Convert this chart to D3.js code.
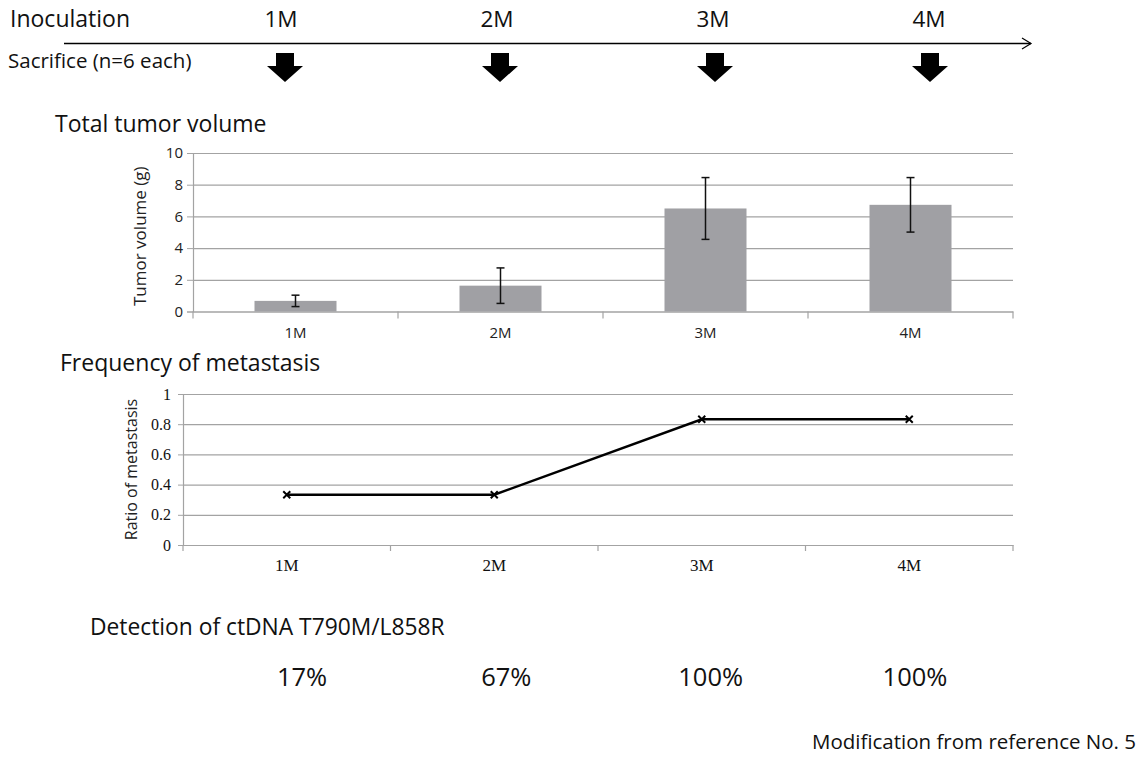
<!DOCTYPE html>
<html>
<head>
<meta charset="utf-8">
<script src="https://cdn.jsdelivr.net/npm/d3@7"></script>
<style>
  html, body { margin: 0; padding: 0; background: #fff; }
  svg { display: block; }
</style>
</head>
<body>
<svg id="chart" width="1141" height="757"></svg>
<script>
// ---- data ----
const months = ["1M", "2M", "3M", "4M"];
const tumorVolume = [0.67, 1.63, 6.5, 6.73];
const tumorError = [0.36, 1.12, 1.95, 1.72];
const metastasisRatio = [0.333, 0.333, 0.833, 0.833];
const ctDNADetection = ["17%", "67%", "100%", "100%"];
const volumeTicks = [0, 2, 4, 6, 8, 10];
const ratioTicks = [0, 0.2, 0.4, 0.6, 0.8, 1];

const SANS = "'Open Sans', Lato, sans-serif";
const SERIF = "'Liberation Serif', 'DejaVu Serif', serif";

const svg = d3.select("#chart");
const gridColor = "#a3a3a3";

function label(x, y, size, txt, anchor) {
  return svg.append("text").attr("x", x).attr("y", y)
    .attr("text-anchor", anchor || "start")
    .style("font-family", SANS).style("font-size", size + "px").style("fill", "#111")
    .text(txt);
}

// ---- top timeline ----
label(10, 27, 23, "Inoculation");
label(8, 68, 20.5, "Sacrifice (n=6 each)");

const xTop = d3.scalePoint().domain(months).range([281, 929]);
svg.selectAll(".toplab").data(months).join("text")
  .attr("class", "toplab")
  .attr("x", d => xTop(d)).attr("y", 27)
  .attr("text-anchor", "middle")
  .style("font-family", SANS).style("font-size", "22.5px").style("fill", "#111")
  .text(d => d);

svg.append("line").attr("x1", 64).attr("x2", 1031).attr("y1", 43.5).attr("y2", 43.5)
  .attr("stroke", "#000").attr("stroke-width", 1.3);
svg.append("path").attr("d", "M1022,38 L1031,43.5 L1022,49")
  .attr("fill", "none").attr("stroke", "#000").attr("stroke-width", 1.2);

const xArrow = d3.scalePoint().domain(months).range([285, 930]);
svg.selectAll(".arrow").data(months).join("path")
  .attr("class", "arrow")
  .attr("transform", d => `translate(${xArrow(d)},0)`)
  .attr("d", "M-9,53 L9,53 L9,66 L18,66 L0,82 L-18,66 L-9,66 Z")
  .attr("fill", "#000");

// ---- bar chart: total tumor volume ----
label(55, 132, 23, "Total tumor volume");

const bx = d3.scaleBand().domain(months).range([193, 1013]).paddingInner(0).paddingOuter(0);
const by = d3.scaleLinear().domain([0, 10]).range([311.5, 153]);

const gBarGrid = svg.append("g")
  .attr("transform", `translate(${bx.range()[0]},0)`)
  .call(d3.axisLeft(by).tickValues(volumeTicks).tickSize(-(1013 - 193)).tickFormat(""));
gBarGrid.select(".domain").remove();
gBarGrid.selectAll("line").attr("stroke", gridColor).attr("stroke-width", 1.2);

const gBarY = svg.append("g")
  .attr("transform", `translate(${bx.range()[0]},0)`)
  .call(d3.axisLeft(by).tickValues(volumeTicks).tickSize(6).tickPadding(4));
gBarY.select(".domain").attr("stroke", gridColor).attr("stroke-width", 1.2);
gBarY.selectAll("line").attr("stroke", gridColor);
gBarY.selectAll("text").style("font-family", SANS).style("font-size", "15px").style("fill", "#222");

const gBarX = svg.append("g")
  .attr("transform", `translate(0,${by(0)})`)
  .call(d3.axisBottom(bx).tickSize(0).tickPadding(16));
gBarX.select(".domain").attr("stroke", gridColor).attr("stroke-width", 1.2);
gBarX.selectAll("text").style("font-family", SANS).style("font-size", "15px").style("fill", "#222");
svg.append("g").selectAll("line").data(d3.range(months.length + 1)).join("line")
  .attr("x1", i => bx.range()[0] + i * bx.step()).attr("x2", i => bx.range()[0] + i * bx.step())
  .attr("y1", by(0)).attr("y2", by(0) + 7)
  .attr("stroke", gridColor).attr("stroke-width", 1.2);

const barW = bx.bandwidth() * 0.4;
svg.selectAll(".bar").data(months).join("rect")
  .attr("class", "bar")
  .attr("x", d => bx(d) + (bx.bandwidth() - barW) / 2)
  .attr("width", barW)
  .attr("y", (d, i) => by(tumorVolume[i]))
  .attr("height", (d, i) => by(0) - by(tumorVolume[i]))
  .attr("fill", "#a0a0a4");

const errG = svg.append("g").attr("stroke", "#111").attr("stroke-width", 1.5);
months.forEach((m, i) => {
  const cx = bx(m) + bx.bandwidth() / 2;
  const hi = by(tumorVolume[i] + tumorError[i]);
  const lo = by(tumorVolume[i] - tumorError[i]);
  errG.append("line").attr("x1", cx).attr("x2", cx).attr("y1", hi).attr("y2", lo);
  errG.append("line").attr("x1", cx - 4).attr("x2", cx + 4).attr("y1", hi).attr("y2", hi);
  errG.append("line").attr("x1", cx - 4).attr("x2", cx + 4).attr("y1", lo).attr("y2", lo);
});

svg.append("text")
  .attr("transform", `translate(146,${(by(0) + by(10)) / 2 + 4}) rotate(-90)`)
  .attr("text-anchor", "middle")
  .style("font-family", SANS).style("font-size", "17px").style("fill", "#222")
  .text("Tumor volume (g)");

// ---- line chart: frequency of metastasis ----
label(60, 371, 23, "Frequency of metastasis");

const lx = d3.scaleBand().domain(months).range([183, 1013]).paddingInner(0).paddingOuter(0);
const ly = d3.scaleLinear().domain([0, 1]).range([545, 394]);

const gLineGrid = svg.append("g")
  .attr("transform", `translate(${lx.range()[0]},0)`)
  .call(d3.axisLeft(ly).tickValues(ratioTicks).tickSize(-(1013 - 183)).tickFormat(""));
gLineGrid.select(".domain").remove();
gLineGrid.selectAll("line").attr("stroke", gridColor).attr("stroke-width", 1.2);

const gLineY = svg.append("g")
  .attr("transform", `translate(${lx.range()[0]},0)`)
  .call(d3.axisLeft(ly).tickValues(ratioTicks).tickSize(5).tickPadding(7).tickFormat(d3.format("")));
gLineY.select(".domain").attr("stroke", gridColor).attr("stroke-width", 1.2);
gLineY.selectAll("line").attr("stroke", gridColor);
gLineY.selectAll("text").style("font-family", SERIF).style("font-size", "16px").style("fill", "#111");

const gLineX = svg.append("g")
  .attr("transform", `translate(0,${ly(0)})`)
  .call(d3.axisBottom(lx).tickSize(0).tickPadding(14));
gLineX.select(".domain").attr("stroke", gridColor).attr("stroke-width", 1.2);
gLineX.selectAll("text").style("font-family", SERIF).style("font-size", "17px").style("fill", "#111");
svg.append("g").selectAll("line").data(d3.range(months.length + 1)).join("line")
  .attr("x1", i => lx.range()[0] + i * lx.step()).attr("x2", i => lx.range()[0] + i * lx.step())
  .attr("y1", ly(0)).attr("y2", ly(0) + 6)
  .attr("stroke", gridColor).attr("stroke-width", 1.2);

const lineGen = d3.line()
  .x((d, i) => lx(months[i]) + lx.bandwidth() / 2)
  .y(d => ly(d));
svg.append("path").datum(metastasisRatio)
  .attr("d", lineGen).attr("fill", "none").attr("stroke", "#000").attr("stroke-width", 2.5);

svg.selectAll(".mark").data(metastasisRatio).join("path")
  .attr("class", "mark")
  .attr("transform", (d, i) => `translate(${lx(months[i]) + lx.bandwidth() / 2},${ly(d)})`)
  .attr("d", "M-3.5,-3.5 L3.5,3.5 M-3.5,3.5 L3.5,-3.5")
  .attr("stroke", "#000").attr("stroke-width", 2);

svg.append("text")
  .attr("transform", `translate(137,${(ly(0) + ly(1)) / 2}) rotate(-90)`)
  .attr("text-anchor", "middle")
  .style("font-family", SANS).style("font-size", "16px").style("fill", "#222")
  .text("Ratio of metastasis");

// ---- ctDNA detection ----
label(90, 635, 22.8, "Detection of ctDNA T790M/L858R");
const xPct = d3.scalePoint().domain(months).range([302, 915]);
svg.selectAll(".pct").data(ctDNADetection).join("text")
  .attr("class", "pct")
  .attr("x", (d, i) => xPct(months[i])).attr("y", 686)
  .attr("text-anchor", "middle")
  .style("font-family", SANS).style("font-size", "25.5px").style("fill", "#111")
  .text(d => d);

label(1136, 749, 20.5, "Modification from reference No. 5", "end");
</script>
</body>
</html>
